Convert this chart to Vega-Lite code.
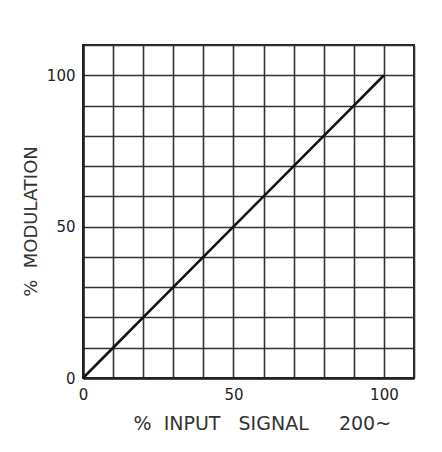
{
  "$schema": "https://vega.github.io/schema/vega-lite/v6.json",
  "autosize": "none",
  "width": 331,
  "height": 333,
  "padding": {"left": 83, "top": 45, "right": 28, "bottom": 74},
  "background": "white",
  "config": {
    "view": {"stroke": "#222", "strokeWidth": 2},
    "axis": {
      "labelFont": "DejaVu Sans",
      "titleFont": "DejaVu Sans",
      "labelColor": "#222",
      "titleColor": "#333",
      "titleFontWeight": "normal",
      "gridColor": "#333",
      "gridWidth": 1.6,
      "gridOpacity": 1,
      "domainColor": "#222",
      "domainWidth": 2.5,
      "ticks": false
    }
  },
  "data": {
    "values": [
      {"input": 0, "modulation": 0},
      {"input": 10, "modulation": 10},
      {"input": 20, "modulation": 20},
      {"input": 30, "modulation": 30},
      {"input": 40, "modulation": 40},
      {"input": 50, "modulation": 50},
      {"input": 60, "modulation": 60},
      {"input": 70, "modulation": 70},
      {"input": 80, "modulation": 80},
      {"input": 90, "modulation": 90},
      {"input": 100, "modulation": 100}
    ]
  },
  "mark": {"type": "line", "color": "#111", "strokeWidth": 2.6},
  "encoding": {
    "x": {
      "field": "input",
      "type": "quantitative",
      "scale": {"domain": [0, 110], "nice": false},
      "axis": {
        "values": [0, 10, 20, 30, 40, 50, 60, 70, 80, 90, 100, 110],
        "labelExpr": "datum.value % 50 === 0 && datum.value <= 100 ? datum.label : ''",
        "labelFontSize": 15,
        "labelPadding": 9,
        "labelFlush": false,
        "title": "%\u00a0\u00a0INPUT\u00a0\u00a0\u00a0SIGNAL\u00a0\u00a0\u00a0\u00a0\u00a0200~",
        "titleFontSize": 19,
        "titlePadding": 12,
        "titleAnchor": "start",
        "titleX": 50,
        "titleAlign": "left"
      }
    },
    "y": {
      "field": "modulation",
      "type": "quantitative",
      "scale": {"domain": [0, 110], "nice": false},
      "axis": {
        "values": [0, 10, 20, 30, 40, 50, 60, 70, 80, 90, 100, 110],
        "labelExpr": "datum.value % 50 === 0 && datum.value <= 100 ? datum.label : ''",
        "labelFontSize": 15,
        "labelPadding": 8,
        "labelFlush": false,
        "title": "%\u00a0\u00a0MODULATION",
        "titleFontSize": 18,
        "titlePadding": 6,
        "titleY": 176
      }
    }
  }
}
